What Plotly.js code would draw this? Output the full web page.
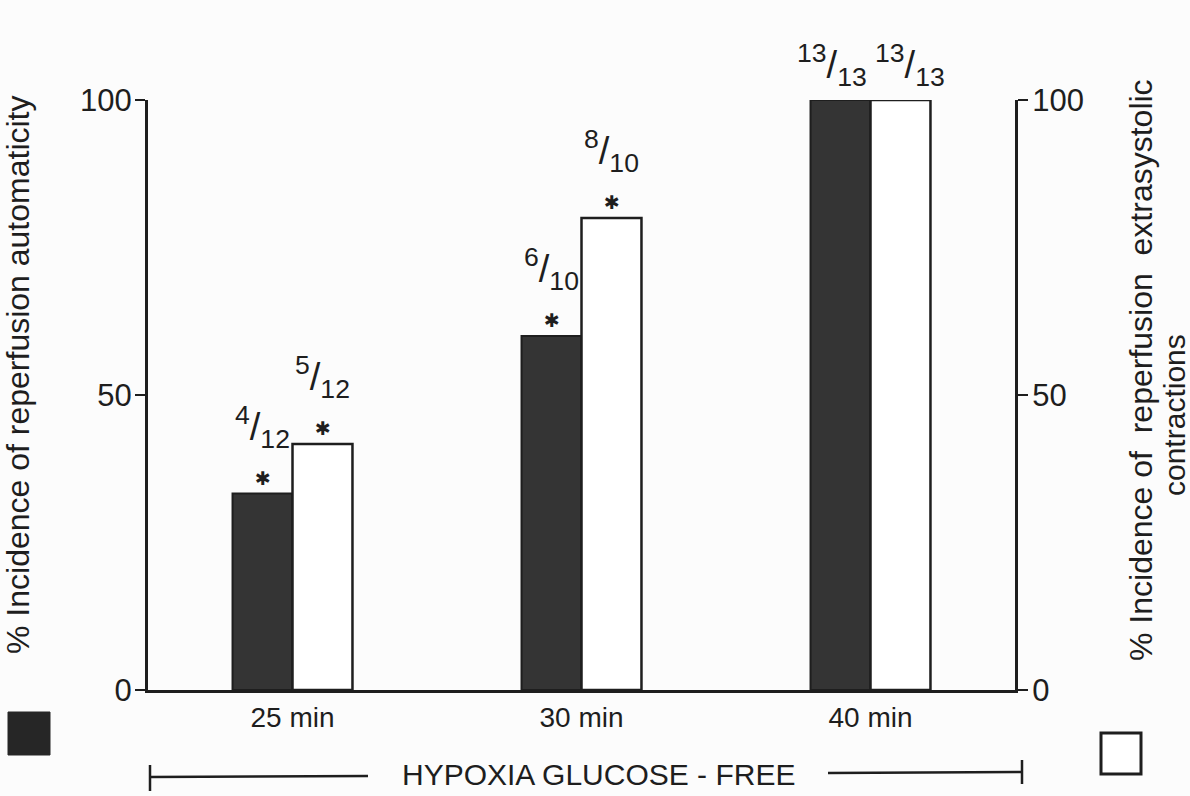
<!DOCTYPE html>
<html>
<head>
<meta charset="utf-8">
<script src="https://cdn.plot.ly/plotly-3.0.1.min.js"></script>
<style>html,body{margin:0;padding:0;background:#fcfcfc;}#chart{width:1190px;height:796px;}</style>
</head>
<body>
<div id="chart"></div>
<script>
// ---- data ----
const categories = ['25 min', '30 min', '40 min'];
const automaticity = [33.3, 60, 100];          // dark bars, % (left axis)
const extrasystolic = [41.7, 80, 100];         // white bars, % (right axis)
const automaticityNum = ['4', '6', '13'];
const automaticityDen = ['12', '10', '13'];
const extrasystolicNum = ['5', '8', '13'];
const extrasystolicDen = ['12', '10', '13'];
const automaticitySig = [true, true, false];
const extrasystolicSig = [true, true, false];
const yTicks = [0, 50, 100];

// ---- layout geometry ----
const W = 1190, H = 796;
const L = 148, R = 1015, T = 100, B = 690;
const px = x => (x - L) / (R - L);
const py = y => (B - y) / (B - T);
const ink = '#1e1e1e';
const font = 'Liberation Sans, Arial, sans-serif';

const traces = [
  {type: 'bar', x: categories, y: automaticity, yaxis: 'y', name: 'automaticity', offsetgroup: 'a',
   marker: {color: '#343434', line: {color: ink, width: 2}}, hoverinfo: 'skip'},
  {type: 'bar', x: categories, y: extrasystolic, yaxis: 'y2', name: 'extrasystolic', offsetgroup: 'b',
   marker: {color: '#ffffff', line: {color: ink, width: 2.5}}, hoverinfo: 'skip'}
];

const ann = [];
function addLabels(vals, nums, dens, sig, shift) {
  vals.forEach((v, i) => {
    if (sig[i]) {
      ann.push({x: categories[i], y: v, xref: 'x', yref: 'y', xshift: shift, yshift: 3,
        xanchor: 'center', yanchor: 'bottom', showarrow: false, text: '✱',
        font: {size: 19, color: ink, family: 'DejaVu Sans'}});
    }
    ann.push({x: categories[i], y: v, xref: 'x', yref: 'y', xshift: shift + (sig[i] ? 0 : (shift < 0 ? -9 : 9)),
      yshift: sig[i] ? 38 : 6,
      xanchor: 'center', yanchor: 'bottom', showarrow: false,
      text: '<sup>' + nums[i] + '</sup>/<sub>' + dens[i] + '</sub>',
      font: {size: 38, color: ink, family: font}});
  });
}
addLabels(automaticity, automaticityNum, automaticityDen, automaticitySig, -30);
addLabels(extrasystolic, extrasystolicNum, extrasystolicDen, extrasystolicSig, 30);

function paperText(x, y, text, size, angle) {
  ann.push({xref: 'paper', yref: 'paper', x: px(x), y: py(y), xanchor: 'center', yanchor: 'middle',
    textangle: angle || 0, showarrow: false, text: text, font: {size: size, color: ink, family: font}});
}
// axis titles
paperText(18, 375, '% Incidence of reperfusion automaticity', 32, -90);
paperText(1141, 370, '% Incidence of\u00a0 reperfusion\u00a0 extrasystolic', 32, -90);
paperText(1174, 415, 'contractions', 30, -90);
// bottom bracket label
paperText(598, 774, 'HYPOXIA GLUCOSE - FREE', 30, 0);

const shapes = [
  // legend squares
  {type: 'rect', xref: 'paper', yref: 'paper', x0: px(8), x1: px(50), y0: py(712), y1: py(755),
   fillcolor: '#262626', line: {color: '#262626', width: 1}},
  {type: 'rect', xref: 'paper', yref: 'paper', x0: px(1101), x1: px(1141), y0: py(733), y1: py(774),
   fillcolor: '#ffffff', line: {color: ink, width: 3}},
  // bracket
  {type: 'line', xref: 'paper', yref: 'paper', x0: px(150), x1: px(368), y0: py(777), y1: py(776), line: {color: ink, width: 2.5}},
  {type: 'line', xref: 'paper', yref: 'paper', x0: px(828), x1: px(1022), y0: py(773), y1: py(772), line: {color: ink, width: 2.5}},
  {type: 'line', xref: 'paper', yref: 'paper', x0: px(150), x1: px(150), y0: py(765), y1: py(791), line: {color: ink, width: 2.5}},
  {type: 'line', xref: 'paper', yref: 'paper', x0: px(1022), x1: px(1022), y0: py(760), y1: py(784), line: {color: ink, width: 2.5}}
];

const yaxisCommon = {
  range: [0, 100], tickvals: yTicks, ticks: 'outside', ticklen: 10, tickwidth: 2.5, tickcolor: ink,
  showline: true, linewidth: 3, linecolor: ink, showgrid: false, zeroline: false,
  tickfont: {size: 31, color: ink, family: font}, fixedrange: true
};

const layout = {
  width: W, height: H,
  margin: {l: L, r: W - R, t: T, b: H - B},
  paper_bgcolor: '#fcfcfc', plot_bgcolor: 'rgba(0,0,0,0)',
  showlegend: false, barmode: 'group', bargap: 0.585, bargroupgap: 0,
  xaxis: {type: 'category', range: [-0.5, 2.5], showline: true, linewidth: 3, linecolor: ink,
    ticks: '', showgrid: false, zeroline: false, tickfont: {size: 28, color: ink, family: font}, fixedrange: true},
  yaxis: Object.assign({side: 'left', ticklabelstandoff: -3}, yaxisCommon),
  yaxis2: Object.assign({side: 'right', overlaying: 'y', ticklabelstandoff: -2}, yaxisCommon),
  annotations: ann, shapes: shapes
};

Plotly.newPlot('chart', traces, layout, {staticPlot: true});
</script>
</body>
</html>
